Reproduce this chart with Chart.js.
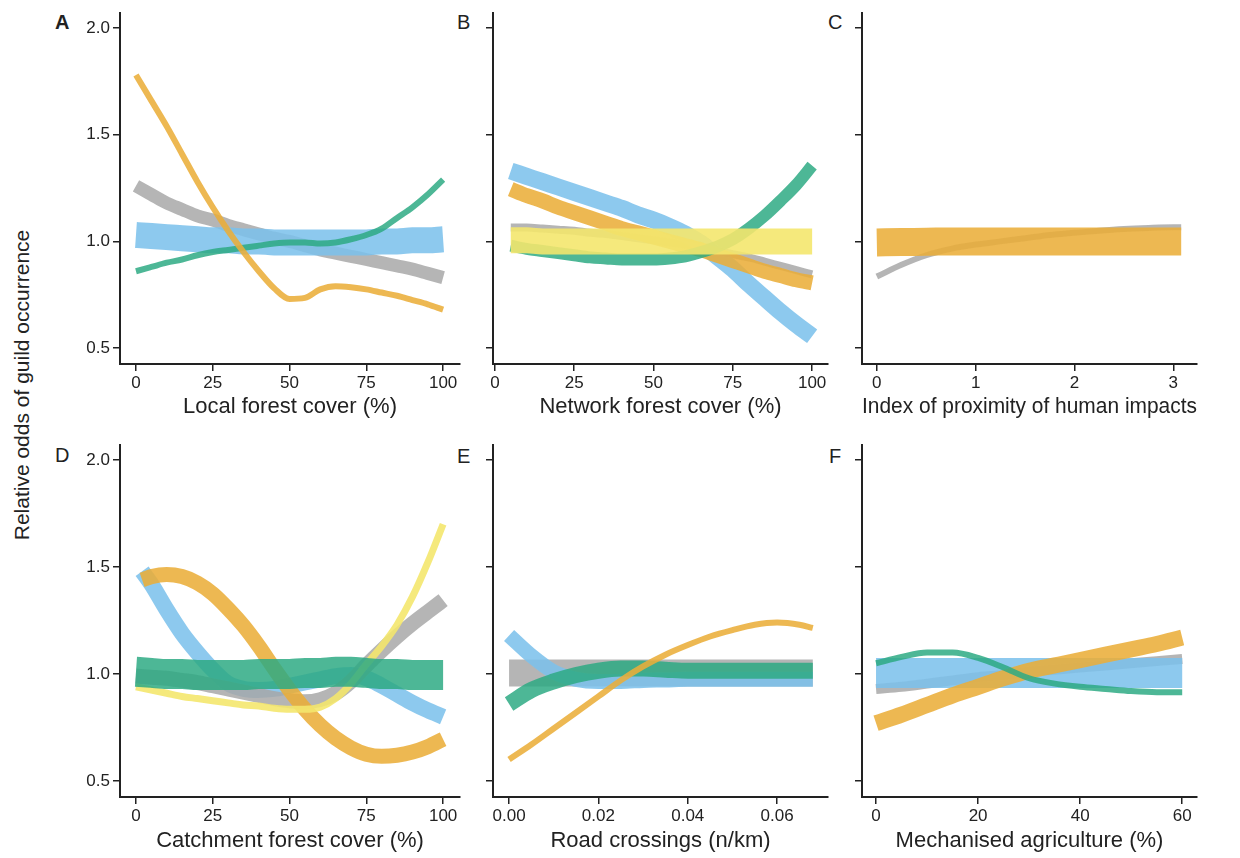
<!DOCTYPE html>
<html>
<head>
<meta charset="utf-8">
<script src="https://cdn.jsdelivr.net/npm/chart.js@4/dist/chart.umd.min.js"></script>
<style>
  body { margin: 0; background: #fff; width: 1240px; height: 858px; position: relative; overflow: hidden;
         font-family: "Liberation Sans", Arial, sans-serif; color: #222; }
  canvas { position: absolute; }
  .tag { position: absolute; font-size: 20px; line-height: 20px; }
  #ylab { position: absolute; left: -178px; top: 373px; width: 400px; height: 24px; line-height: 24px;
          font-size: 21px; text-align: center; transform: rotate(-90deg); }
</style>
</head>
<body>
<div id="ylab">Relative odds of guild occurrence</div>
<div class="tag" style="left:55px;top:12px;font-weight:bold">A</div>
<div class="tag" style="left:457px;top:12px">B</div>
<div class="tag" style="left:828px;top:12px">C</div>
<div class="tag" style="left:55px;top:445px">D</div>
<div class="tag" style="left:457px;top:446px">E</div>
<div class="tag" style="left:829px;top:446px">F</div>

<canvas id="cA" width="430" height="420" style="left:40px;top:0"></canvas>
<canvas id="cB" width="370" height="420" style="left:470px;top:0"></canvas>
<canvas id="cC" width="405" height="420" style="left:835px;top:0"></canvas>
<canvas id="cD" width="430" height="428" style="left:40px;top:430px"></canvas>
<canvas id="cE" width="370" height="428" style="left:470px;top:430px"></canvas>
<canvas id="cF" width="405" height="428" style="left:835px;top:430px"></canvas>

<script>
// shared y axis
const yTicks = [0.5, 1.0, 1.5, 2.0];

// A: local forest cover
const aX = [0,5,10,15,20,25,30,35,40,45,50,55,60,65,70,75,80,85,90,95,100];
const aOrange = [1.78,1.66,1.54,1.41,1.28,1.16,1.05,0.95,0.86,0.78,0.73,0.735,0.775,0.79,0.785,0.775,0.76,0.745,0.725,0.705,0.68];
const aGray   = [1.26,1.22,1.18,1.15,1.12,1.10,1.075,1.055,1.035,1.015,1.0,0.98,0.96,0.945,0.93,0.915,0.9,0.885,0.87,0.85,0.83];
const aBlue   = [1.03,1.025,1.02,1.015,1.01,1.005,1.005,1.0,1.0,0.995,0.995,0.995,0.995,0.995,0.995,0.995,1.0,1.0,1.005,1.005,1.01];
const aGreen  = [0.86,0.88,0.90,0.915,0.935,0.95,0.96,0.97,0.98,0.99,0.995,0.995,0.99,0.995,1.01,1.03,1.06,1.11,1.16,1.22,1.29];
const aTicks = [0,25,50,75,100];

// B: network forest cover
const bX = [5,10,15,20,25,30,35,40,45,50,55,60,65,70,75,80,85,90,95,100];
const bBlue   = [1.33,1.305,1.28,1.255,1.23,1.205,1.18,1.155,1.125,1.10,1.07,1.035,0.99,0.93,0.87,0.80,0.735,0.67,0.61,0.555];
const bOrange = [1.245,1.215,1.19,1.16,1.135,1.11,1.085,1.06,1.04,1.02,1.0,0.98,0.96,0.935,0.91,0.885,0.86,0.84,0.82,0.805];
const bGray   = [1.065,1.065,1.06,1.055,1.05,1.04,1.035,1.025,1.015,1.005,0.995,0.985,0.97,0.955,0.94,0.925,0.905,0.885,0.865,0.845];
const bYellow = [1.005,1.005,1.0,1.0,1.0,1.0,1.0,1.0,1.0,1.0,1.0,1.0,1.0,1.0,1.0,1.0,1.0,1.0,1.0,1.0];
const bGreen  = [0.98,0.965,0.955,0.945,0.935,0.925,0.92,0.915,0.915,0.915,0.92,0.93,0.95,0.975,1.01,1.06,1.12,1.19,1.265,1.355];
const bTicks = [0,25,50,75,100];

// C: proximity of human impacts
const cX = [0,0.25,0.5,0.75,1,1.25,1.5,1.75,2,2.25,2.5,2.75,3,3.08];
const cOrange = [0.995,0.997,0.998,1.0,1.0,1.0,1.0,1.0,1.0,1.0,1.0,1.0,1.0,1.0];
const cGray   = [0.835,0.89,0.935,0.965,0.985,1.0,1.015,1.03,1.04,1.05,1.058,1.063,1.066,1.066];
const cTicks = [0,1,2,3];

// D: catchment forest cover
const dX  = [0,5,10,15,20,25,30,35,40,45,50,55,60,65,70,75,80,85,90,95,100];
const dX2 = [2,5,10,15,20,25,30,35,40,45,50,55,60,65,70,75,80,85,90,95,100];
const dBlue   = [1.48,1.42,1.30,1.19,1.10,1.02,0.955,0.93,0.925,0.93,0.945,0.96,0.975,0.99,0.995,0.98,0.945,0.905,0.865,0.83,0.80];
const dOrange = [1.44,1.455,1.465,1.455,1.425,1.375,1.305,1.225,1.13,1.025,0.925,0.835,0.76,0.70,0.655,0.625,0.615,0.62,0.635,0.66,0.695];
const dGray   = [0.99,0.985,0.98,0.97,0.96,0.945,0.93,0.915,0.90,0.885,0.875,0.87,0.88,0.91,0.965,1.04,1.11,1.175,1.235,1.29,1.345];
const dYellow = [0.94,0.925,0.91,0.895,0.885,0.875,0.865,0.855,0.85,0.84,0.835,0.835,0.845,0.885,0.955,1.045,1.13,1.23,1.36,1.52,1.70];
const dGreen  = [1.01,1.005,1.0,1.0,0.995,0.995,0.995,0.995,1.0,1.0,1.0,1.005,1.005,1.01,1.01,1.005,1.0,1.0,0.995,0.995,0.995];
const dTicks = [0,25,50,75,100];

// E: road crossings
const eX = [0,0.005,0.01,0.015,0.02,0.025,0.03,0.035,0.04,0.045,0.05,0.055,0.06,0.065,0.068];
const eOrange = [0.60,0.67,0.745,0.82,0.895,0.97,1.035,1.09,1.135,1.175,1.205,1.23,1.24,1.23,1.215];
const eBlue   = [1.18,1.085,1.01,0.975,0.965,0.965,0.97,0.972,0.975,0.975,0.975,0.975,0.975,0.975,0.975];
const eGray   = [1.005,1.005,1.005,1.005,1.005,1.005,1.005,1.005,1.005,1.005,1.005,1.005,1.005,1.005,1.005];
const eGreen  = [0.86,0.925,0.965,0.995,1.015,1.025,1.025,1.02,1.015,1.015,1.015,1.015,1.015,1.015,1.015];
const eTicks = [0,0.02,0.04,0.06];

// F: mechanised agriculture
const fX = [0,5,10,15,20,25,30,35,40,45,50,55,60];
const fBlue   = [1.005,1.005,1.005,1.005,1.005,1.005,1.005,1.005,1.005,1.005,1.005,1.005,1.005];
const fGray   = [0.93,0.94,0.955,0.97,0.985,0.995,1.01,1.02,1.03,1.04,1.05,1.06,1.07];
const fOrange = [0.77,0.81,0.855,0.9,0.94,0.98,1.015,1.04,1.065,1.09,1.115,1.14,1.17];
const fGreen  = [1.05,1.08,1.10,1.10,1.075,1.03,0.98,0.955,0.94,0.93,0.92,0.915,0.915];
const fTicks = [0,20,40,60];

const FONT = '"Liberation Sans", Arial, sans-serif';
const INK = '#222';
const ORANGE = 'rgba(234,174,58,0.88)';
const GRAY = 'rgba(168,168,168,0.85)';
const BLUE = 'rgba(125,194,236,0.88)';
const GREEN = 'rgba(46,170,132,0.85)';
const YELLOW = 'rgba(244,231,110,0.9)';

function line(xs, ys, color, width) {
  return {
    data: xs.map((x, i) => ({ x: x, y: ys[i] })),
    borderColor: color, borderWidth: width, borderCapStyle: 'butt',
    pointRadius: 0, fill: false, tension: 0.4, cubicInterpolationMode: 'monotone'
  };
}

// one small panel; first dataset is drawn on top
function panel(id, o) {
  new Chart(document.getElementById(id), {
    type: 'line',
    data: { datasets: o.sets },
    options: {
      responsive: false, animation: false,
      layout: { padding: { top: o.top, right: o.right, left: 0, bottom: 0 } },
      plugins: { legend: { display: false }, tooltip: { enabled: false } },
      scales: {
        x: {
          type: 'linear', min: o.xMin, max: o.xMax,
          afterBuildTicks: s => { s.ticks = o.xTicks.map(v => ({ value: v })); },
          afterFit: s => { s.height = o.axisH; },
          border: { display: true, color: INK, width: 2 },
          grid: { drawOnChartArea: false, tickLength: 7, color: INK, lineWidth: 1.5 },
          ticks: { autoSkip: false, maxRotation: 0, padding: 2, color: INK,
                   font: { size: 17, family: FONT }, callback: v => o.xFmt(v) },
          title: { display: true, text: o.title, color: INK,
                   font: { size: 22, family: FONT }, padding: { top: 0, bottom: o.titlePad } }
        },
        y: {
          min: 0.425, max: 2.07,
          afterBuildTicks: s => { s.ticks = yTicks.map(v => ({ value: v })); },
          afterFit: s => { s.width = o.yW; },
          border: { display: true, color: INK, width: 2 },
          grid: { drawOnChartArea: false, tickLength: 7, color: INK, lineWidth: 1.5 },
          ticks: { autoSkip: false, padding: 3, color: INK, font: { size: 17, family: FONT },
                   callback: v => o.showY ? v.toFixed(1) : '' }
        }
      }
    }
  });
}

const intFmt = v => String(v);
const top1 = { top: 12, axisH: 56, titlePad: 0 };
const top2 = { top: 15, axisH: 61, titlePad: 4 };

panel('cA', Object.assign({}, top1, {
  right: 10, yW: 80, showY: true, xMin: -5.2, xMax: 105.5, xTicks: aTicks, xFmt: intFmt,
  title: 'Local forest cover (%)',
  sets: [line(aX, aOrange, ORANGE, 6), line(aX, aGreen, GREEN, 6), line(aX, aBlue, BLUE, 26), line(aX, aGray, GRAY, 13)]
}));
panel('cB', Object.assign({}, top1, {
  right: 12, yW: 23, showY: false, xMin: -0.6, xMax: 105, xTicks: bTicks, xFmt: intFmt,
  title: 'Network forest cover (%)',
  sets: [line(bX, bYellow, YELLOW, 26), line(bX, bGreen, GREEN, 12), line(bX, bOrange, ORANGE, 15),
         line(bX, bBlue, BLUE, 17), line(bX, bGray, GRAY, 8)]
}));
panel('cC', Object.assign({}, top1, {
  right: 43, yW: 27, showY: false, xMin: -0.15, xMax: 3.24, xTicks: cTicks, xFmt: intFmt,
  title: 'Index of proximity of human impacts',
  sets: [line(cX, cOrange, ORANGE, 28), line(cX, cGray, GRAY, 6)]
}));
panel('cD', Object.assign({}, top2, {
  right: 10, yW: 80, showY: true, xMin: -5.2, xMax: 105.5, xTicks: dTicks, xFmt: intFmt,
  title: 'Catchment forest cover (%)',
  sets: [line(dX, dGreen, GREEN, 30), line(dX, dYellow, YELLOW, 7), line(dX2, dOrange, ORANGE, 15),
         line(dX, dGray, GRAY, 15), line(dX2, dBlue, BLUE, 16)]
}));
panel('cE', Object.assign({}, top2, {
  right: 12, yW: 23, showY: false, xMin: -0.0036, xMax: 0.0714, xTicks: eTicks, xFmt: v => v.toFixed(2),
  title: 'Road crossings (n/km)',
  sets: [line(eX, eOrange, ORANGE, 6), line(eX, eGreen, GREEN, 16), line(eX, eBlue, BLUE, 15), line(eX, eGray, GRAY, 27)]
}));
panel('cF', Object.assign({}, top2, {
  right: 43, yW: 27, showY: false, xMin: -2.75, xMax: 62.9, xTicks: fTicks, xFmt: intFmt,
  title: 'Mechanised agriculture (%)',
  sets: [line(fX, fGreen, GREEN, 6), line(fX, fOrange, ORANGE, 16), line(fX, fBlue, BLUE, 30), line(fX, fGray, GRAY, 10)]
}));
</script>
</body>
</html>
